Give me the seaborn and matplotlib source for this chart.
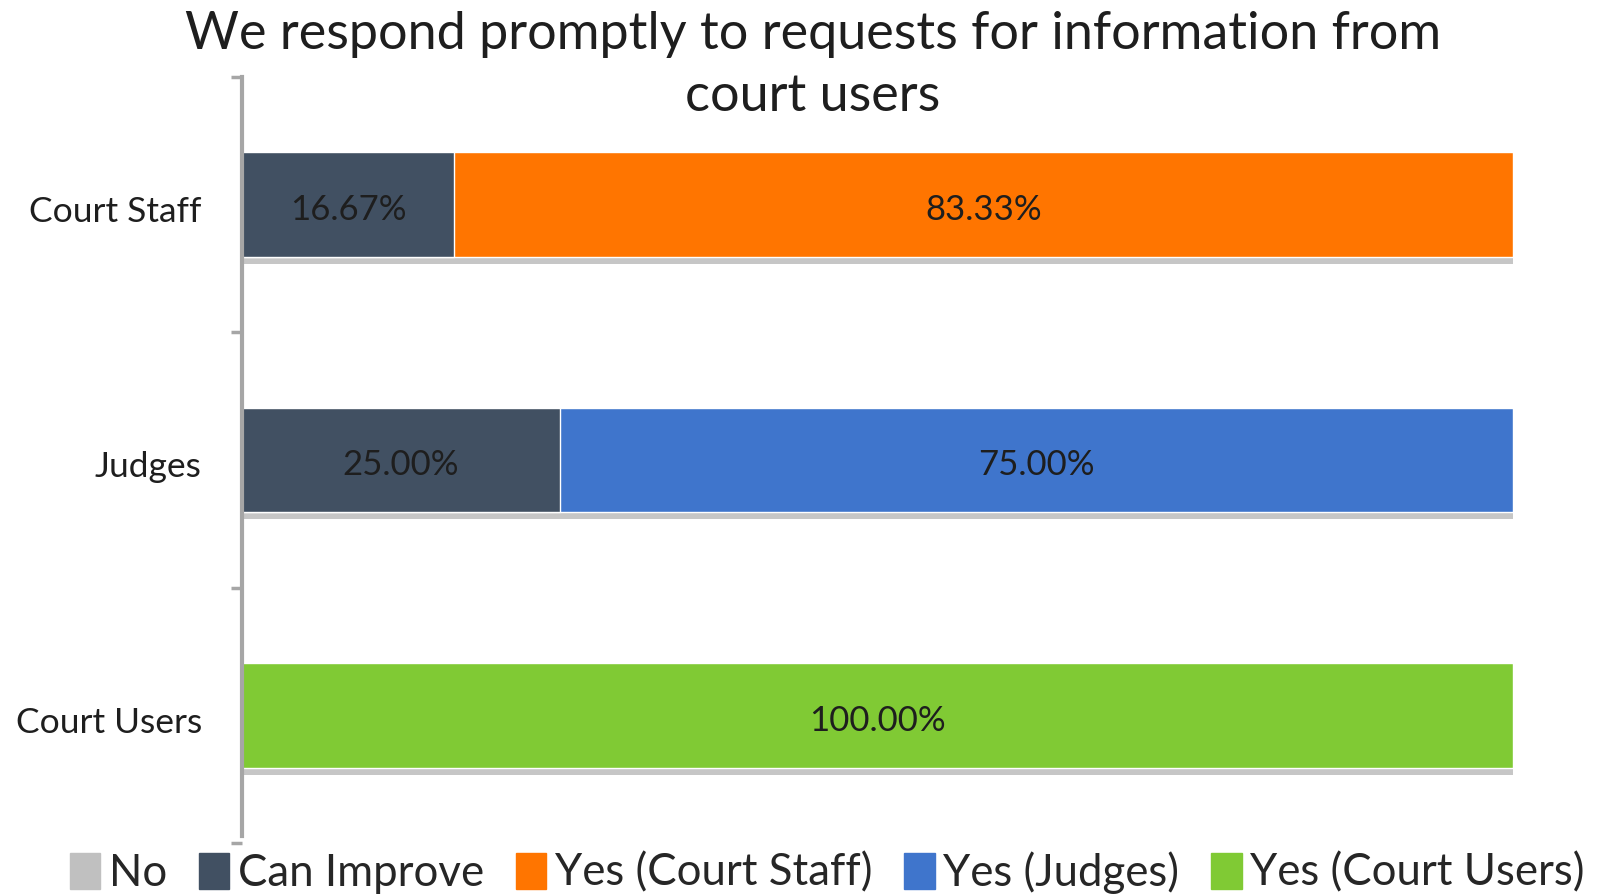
import numpy as np
import pandas as pd
import seaborn as sns
import matplotlib.pyplot as plt
import matplotlib.patheffects as pe
from matplotlib.patches import Patch
from matplotlib.transforms import ScaledTranslation

# Dados
categorias = ['Court Staff', 'Judges', 'Court Users']
no = [0.0, 0.0, 0.0]
can_improve = [16.67, 25.00, 0.0]
yes = [83.33, 75.00, 100.00]
yes_nomes = ['Yes (Court Staff)', 'Yes (Judges)', 'Yes (Court Users)']

cor_no = '#C0C0C0'
cor_can = '#415062'
cores_yes = ['#FF7500', '#3F75CC', '#80CA34']

df = pd.DataFrame({'categoria': categorias, 'no': no, 'can': can_improve, 'yes': yes})
df['ate_can'] = df['no'] + df['can']
df['total'] = df['ate_can'] + df['yes']

sns.set_style('white')
plt.rcParams['font.family'] = ['Lato', 'DejaVu Sans']

fig = plt.figure(figsize=(16.03, 8.94), dpi=100)
ax = fig.add_axes([0.151, 0.0566, 0.793, 0.8576])

sombra = [pe.SimplePatchShadow(offset=(0, -5), shadow_rgbFace='#a0a0a0', alpha=0.6), pe.Normal()]

sns.barplot(data=df, x='total', y='categoria', hue='categoria', palette=cores_yes,
            width=0.41, dodge=False, legend=False, ax=ax, saturation=1, errorbar=None)
sns.barplot(data=df, x='ate_can', y='categoria', color=cor_can, width=0.41,
            ax=ax, saturation=1, errorbar=None)
sns.barplot(data=df, x='no', y='categoria', color=cor_no, width=0.41,
            ax=ax, saturation=1, errorbar=None)

for i, p in enumerate(ax.patches):
    if i < len(categorias):
        p.set_path_effects(sombra)

# Rótulos dos segmentos
for i, linha in df.iterrows():
    if linha['can'] > 0:
        ax.text(linha['no'] + linha['can'] / 2, i + 0.02, f"{linha['can']:.2f}%", ha='center', va='center',
                fontsize=25, color='#1e1e1e')
    if linha['yes'] > 0:
        ax.text(linha['ate_can'] + linha['yes'] / 2, i + 0.02, f"{linha['yes']:.2f}%", ha='center', va='center',
                fontsize=25, color='#1e1e1e')

ax.set_xlim(0, 100)
ax.set_ylim(2.5, -0.5)
ax.set_xlabel('')
ax.set_ylabel('')
ax.set_xticks([])
ax.set_yticks(range(len(categorias)))
ax.set_yticklabels(categorias, fontsize=25.5, color='#1e1e1e')
ax.set_yticks([-0.5, 0.5, 1.5, 2.5], minor=True)
ax.tick_params(axis='y', which='major', length=0, pad=29)
ax.tick_params(axis='y', which='minor', length=8, width=2.5, color='#a6a6a6', left=True)
for lado in ['top', 'right', 'bottom']:
    ax.spines[lado].set_visible(False)
ax.spines['left'].set_color('#a6a6a6')
ax.spines['left'].set_linewidth(3)
ax.spines['left'].set_bounds(2.47, -0.5)
for lbl in ax.get_yticklabels():
    lbl.set_va('center_baseline')
    lbl.set_transform(lbl.get_transform() + ScaledTranslation(0, -3 / 72, fig.dpi_scale_trans))

fig.text(0.507, 0.927, 'We respond promptly to requests for information from\ncourt users',
         ha='center', va='center', fontsize=37.5, color='#1e1e1e', linespacing=1.4)

handles = [Patch(color=cor_no, label='No'), Patch(color=cor_can, label='Can Improve')]
handles += [Patch(color=c, label=n) for c, n in zip(cores_yes, yes_nomes)]
fig.legend(handles=handles, loc='center', bbox_to_anchor=(0.516, 0.024), ncol=5, frameon=False,
           fontsize=31.5, handlelength=0.7, handleheight=0.9, handletextpad=0.2, columnspacing=0.72,
           borderpad=0.1)

plt.savefig('out.png', dpi=100)
